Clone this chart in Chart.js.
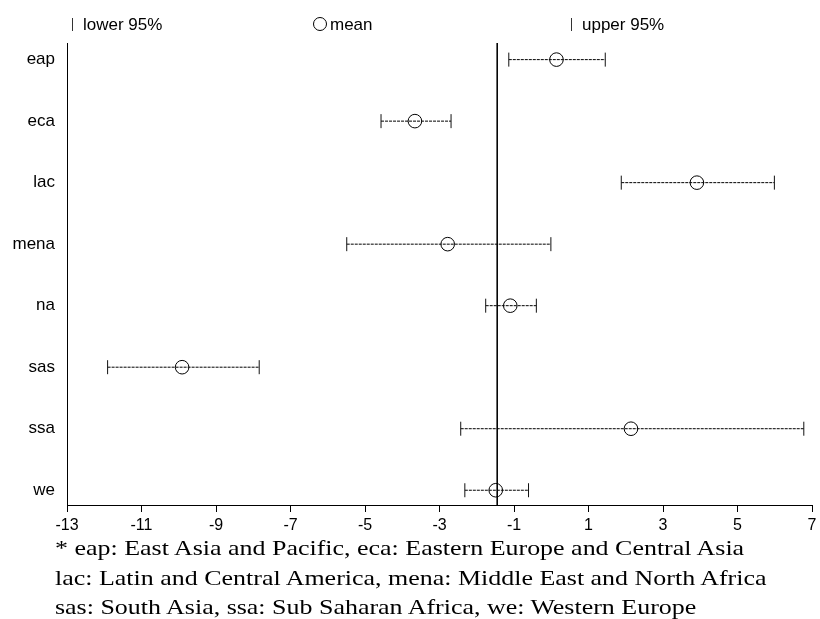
<!DOCTYPE html>
<html>
<head>
<meta charset="utf-8">
<script src="https://cdn.jsdelivr.net/npm/chart.js@4"></script>
<style>
  html, body { margin: 0; padding: 0; background: #fff; }
  #wrap { position: relative; width: 820px; height: 619px; }
  #note {
    position: absolute; left: 55px; top: 533px;
    font-family: 'Liberation Serif', 'Times New Roman', serif;
    font-size: 22px; line-height: 29.5px; color: #000; white-space: nowrap;
    transform: scaleX(1.18); transform-origin: left top;
  }
</style>
</head>
<body>
<div id="wrap">
  <canvas id="chart" width="820" height="619"></canvas>
  <div id="note">
    * eap: East Asia and Pacific, eca: Eastern Europe and Central Asia<br>
    lac: Latin and Central America, mena: Middle East and North Africa<br>
    sas: South Asia, ssa: Sub Saharan Africa, we: Western Europe
  </div>
</div>
<script>
// Data
const regions = ['eap', 'eca', 'lac', 'mena', 'na', 'sas', 'ssa', 'we'];
const lower95 = [-1.14, -4.57, 1.88, -5.49, -1.76, -11.91, -2.43, -2.32];
const means = [0.14, -3.66, 3.91, -2.78, -1.10, -9.91, 2.14, -1.49];
const upper95 = [1.45, -2.69, 5.99, -0.01, -0.40, -7.84, 6.78, -0.61];
const xTicks = [-13, -11, -9, -7, -5, -3, -1, 1, 3, 5, 7];
const refLine = -1.45;
const legendLabels = ['lower 95%', 'mean', 'upper 95%'];

const sansFont = '"Liberation Sans", Arial, sans-serif';
const yMin = -0.27;
const yMax = 7.24;

// one line per region: whisker from lower to upper, caps drawn as rotated 'line' points
const whiskers = regions.map((r, i) => ({
  type: 'line',
  label: r,
  data: [{ x: lower95[i], y: i }, { x: upper95[i], y: i }],
  borderColor: '#000',
  borderWidth: 1,
  borderDash: [3, 1],
  pointStyle: 'line',
  pointRotation: 90,
  pointRadius: 7,
  pointBorderColor: '#111',
  pointBorderWidth: 1,
  fill: false,
}));

// Legend drawn across the top
const topLegend = {
  id: 'topLegend',
  afterDraw(chart) {
    const c = chart.ctx;
    c.save();
    c.font = '17px ' + sansFont;
    c.fillStyle = '#000';
    c.textBaseline = 'middle';
    c.strokeStyle = '#333';
    c.lineWidth = 1;
    // lower 95%
    c.beginPath();
    c.moveTo(72.5, 18);
    c.lineTo(72.5, 31);
    c.stroke();
    c.fillText(legendLabels[0], 83, 25);
    // mean
    c.strokeStyle = '#000';
    c.beginPath();
    c.arc(320, 24, 6.5, 0, Math.PI * 2);
    c.stroke();
    c.fillText(legendLabels[1], 330, 25);
    // upper 95%
    c.strokeStyle = '#333';
    c.beginPath();
    c.moveTo(571.5, 18);
    c.lineTo(571.5, 31);
    c.stroke();
    c.fillText(legendLabels[2], 582, 25);
    c.restore();
  },
};

const ctx = document.getElementById('chart').getContext('2d');

const forestChart = new Chart(ctx, {
  type: 'scatter',
  data: {
    datasets: [
      {
        type: 'scatter',
        label: 'mean',
        data: means.map((m, i) => ({ x: m, y: i })),
        pointStyle: 'circle',
        pointRadius: 6.8,
        pointBackgroundColor: 'rgba(255,255,255,0)',
        pointBorderColor: '#000',
        pointBorderWidth: 1,
      },
      ...whiskers,
      {
        type: 'line',
        label: 'overall',
        data: [{ x: refLine, y: yMin }, { x: refLine, y: yMax }],
        borderColor: '#000',
        borderWidth: 1,
        pointRadius: 0,
        fill: false,
      },
    ],
  },
  options: {
    responsive: false,
    animation: false,
    layout: {
      padding: { top: 43, right: 2, bottom: 84, left: 0 },
    },
    plugins: {
      legend: { display: false },
      tooltip: { enabled: false },
    },
    scales: {
      x: {
        type: 'linear',
        min: -13,
        max: 7,
        afterBuildTicks: (scale) => {
          scale.ticks = xTicks.map((v) => ({ value: v }));
        },
        afterFit: (scale) => {
          scale.height = 30;
          scale.paddingLeft = 0;
          scale.paddingRight = 0;
        },
        grid: {
          drawOnChartArea: false,
          drawTicks: true,
          tickLength: 7,
          color: '#000',
        },
        border: { display: true, color: '#000', width: 1 },
        ticks: {
          color: '#000',
          font: { family: sansFont, size: 16 },
          padding: 4,
          maxRotation: 0,
          autoSkip: false,
        },
      },
      y: {
        type: 'linear',
        reverse: true,
        min: yMin,
        max: yMax,
        afterBuildTicks: (scale) => {
          scale.ticks = regions.map((r, i) => ({ value: i }));
        },
        afterFit: (scale) => {
          scale.width = 67;
          scale.paddingTop = 0;
          scale.paddingBottom = 0;
        },
        grid: { drawOnChartArea: false, drawTicks: false },
        border: { display: true, color: '#000', width: 1 },
        ticks: {
          color: '#000',
          font: { family: sansFont, size: 17 },
          padding: 12,
          callback: (v) => regions[v],
        },
      },
    },
  },
  plugins: [topLegend],
});
</script>
</body>
</html>
